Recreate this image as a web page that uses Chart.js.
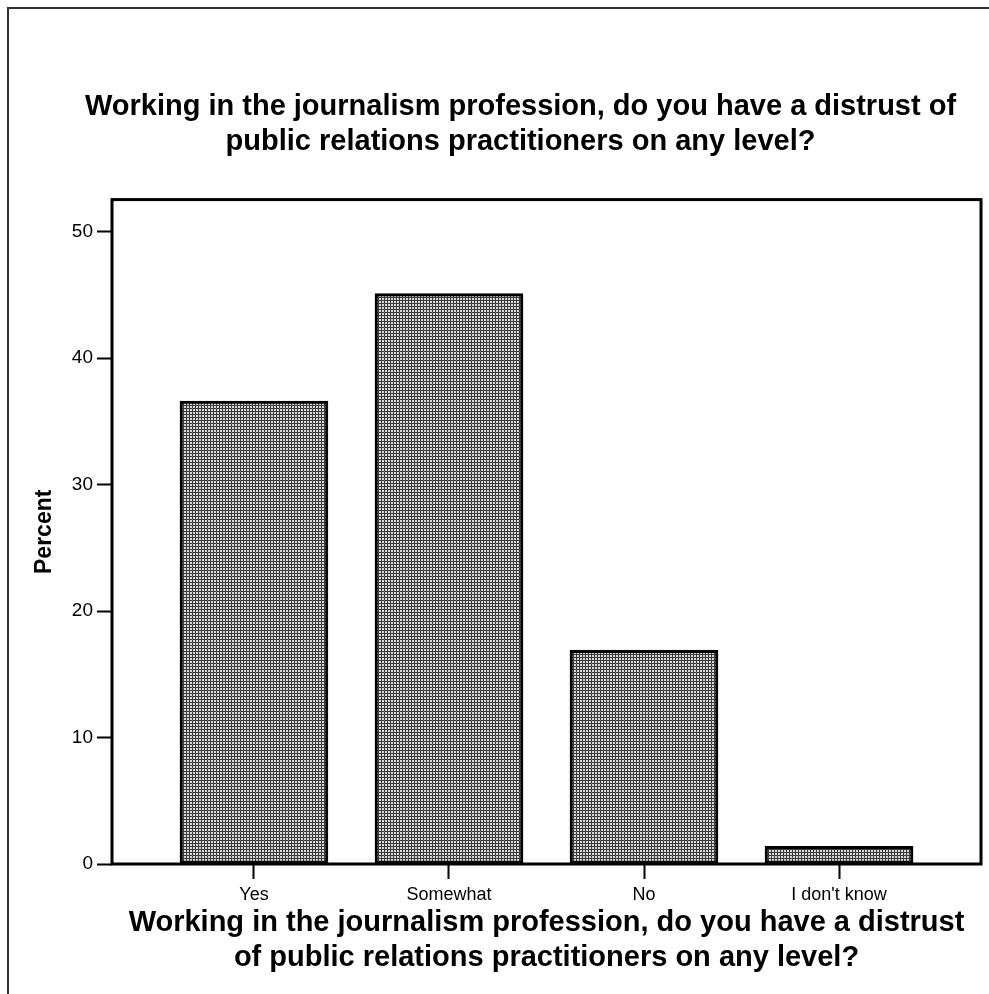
<!DOCTYPE html>
<html>
<head>
<meta charset="utf-8">
<title>Distrust of PR practitioners</title>
<script src="https://cdn.jsdelivr.net/npm/chart.js@4.4.0/dist/chart.umd.min.js"></script>
<style>
  html, body { margin: 0; padding: 0; background: #fff; overflow: hidden; }
  #wrap { position: relative; width: 989px; height: 994px; }
  #wrap canvas { position: absolute; left: 0; top: 0; }
  #frame {
    position: absolute; left: 7px; top: 7px; right: -20px; bottom: -20px;
    border-left: 2px solid #333; border-top: 2px solid #333;
    pointer-events: none;
  }
</style>
</head>
<body>
<div id="wrap">
  <canvas id="chart" width="989" height="994"></canvas>
  <div id="frame"></div>
</div>
<script>
// Data
const categories = ['Yes', 'Somewhat', 'No', "I don't know"];
const percentValues = [36.6, 45.1, 16.9, 1.4];
const yTickValues = [0, 10, 20, 30, 40, 50];

const chartTitle = [
  'Working in the journalism profession, do you have a distrust of',
  'public relations practitioners on any level?'
];
const xAxisTitle = [
  'Working in the journalism profession, do you have a distrust',
  'of public relations practitioners on any level?'
];
const yAxisTitle = 'Percent';

const fontFamily = '"Liberation Sans", Arial, Helvetica, sans-serif';

document.addEventListener('DOMContentLoaded', function() {
  const canvas = document.getElementById('chart');
  const ctx = canvas.getContext('2d');

  // Grainy grey fill like the scanned bars
  const tile = document.createElement('canvas');
  tile.width = 3;
  tile.height = 3;
  const t = tile.getContext('2d');
  t.fillStyle = '#d8d8d8';
  t.fillRect(0, 0, 3, 3);
  t.fillStyle = '#3c3c3c';
  t.fillRect(0, 0, 3, 1);
  t.fillRect(0, 0, 1, 3);
  const texture = ctx.createPattern(tile, 'repeat');

  // Box round the plot area
  const plotFrame = {
    id: 'plotFrame',
    afterDatasetsDraw(chart) {
      const a = chart.chartArea;
      const c = chart.ctx;
      c.save();
      c.strokeStyle = '#000';
      c.lineWidth = 3;
      c.strokeRect(a.left, a.top, a.right - a.left, a.bottom - a.top);
      c.restore();
    }
  };

  // left padding moves the title centre to the right; the y axis fills the rest up to x=112
  const padLeft = 60;

  new Chart(ctx, {
    type: 'bar',
    data: {
      datasets: [{
        label: 'Percent',
        data: percentValues.map((v, i) => ({ x: i + 1, y: v })),
        backgroundColor: texture,
        borderColor: '#000',
        borderWidth: 3,
        borderSkipped: false,
        barThickness: 148
      }]
    },
    options: {
      responsive: false,
      animation: false,
      layout: { padding: { left: padLeft, right: 8, top: 0, bottom: 0 } },
      plugins: {
        legend: { display: false },
        tooltip: { enabled: false },
        title: {
          display: true,
          text: chartTitle,
          color: '#000',
          font: { family: fontFamily, size: 29, weight: 'bold', lineHeight: 1.2 },
          padding: { top: 90, bottom: 40 }
        }
      },
      scales: {
        x: {
          type: 'linear',
          offset: false,
          min: 0.272,
          max: 4.728,
          afterBuildTicks: s => { s.ticks = categories.map((c, i) => ({ value: i + 1 })); },
          afterFit: s => { s.height = 130; },
          border: { display: false },
          grid: { offset: false, drawOnChartArea: false, tickLength: 15, tickWidth: 2, tickColor: '#000' },
          ticks: {
            color: '#000',
            padding: 5,
            maxRotation: 0,
            font: { family: fontFamily, size: 18 },
            callback: (v, i) => categories[i]
          },
          title: {
            display: true,
            text: xAxisTitle,
            color: '#000',
            font: { family: fontFamily, size: 29, weight: 'bold', lineHeight: 1.2 },
            padding: { top: 0, bottom: 19 }
          }
        },
        y: {
          min: 0,
          max: 52.53,
          afterBuildTicks: s => { s.ticks = yTickValues.map(v => ({ value: v })); },
          afterFit: s => { s.width = 112 - padLeft; },
          border: { display: false },
          grid: { drawOnChartArea: false, tickLength: 15, tickWidth: 2, tickColor: '#000' },
          ticks: {
            color: '#000',
            padding: 4,
            font: { family: fontFamily, size: 19 }
          },
          title: {
            display: true,
            text: yAxisTitle,
            color: '#000',
            font: { family: fontFamily, size: 23, weight: 'bold' },
            padding: { top: 45 - padLeft - 14, bottom: 0 }
          }
        }
      }
    },
    plugins: [plotFrame]
  });
});
</script>
</body>
</html>
